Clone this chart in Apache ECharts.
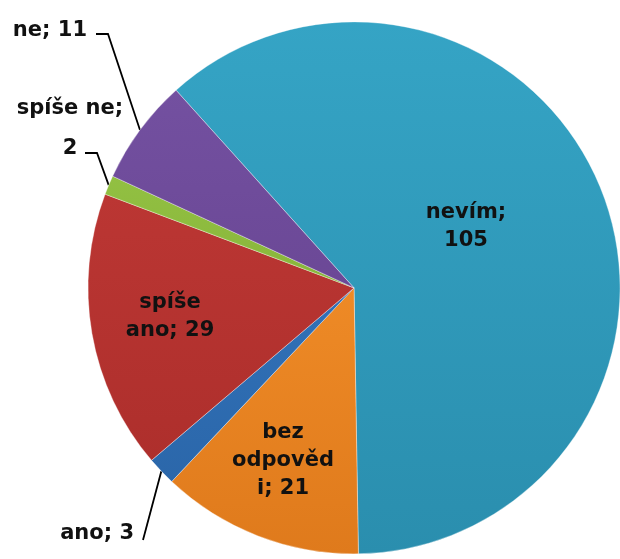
<!DOCTYPE html>
<html>
<head>
<meta charset="utf-8">
<script src="https://cdn.jsdelivr.net/npm/echarts@6/dist/echarts.min.js"></script>
<style>
  html, body { margin: 0; padding: 0; background: #fff; }
  #main { width: 620px; height: 559px; }
</style>
</head>
<body>
<div id="main"></div>
<script>
// data, in drawing order (clockwise, starting at the upper left edge of "nevím")
const categories = ['nevím', 'bez odpovědi', 'ano', 'spíše ano', 'spíše ne', 'ne'];
const values = [105, 21, 3, 29, 2, 11];
// label texts, wrapped the way the original shows them
const labelTexts = ['nevím;\n105', 'bez\nodpověd\ni; 21', 'ano; 3', 'spíše\nano; 29', 'spíše ne;\n2', 'ne; 11'];

// styling: [top colour, bottom colour] of each slice
const colors = [
  ['#35a4c5', '#2a8eae'],
  ['#ee8a26', '#df7a1c'],
  ['#3171b8', '#2b67aa'],
  ['#bb3633', '#ae2f2c'],
  ['#92c042', '#88b53b'],
  ['#7350a0', '#6b4896']
];
const outside = [false, false, true, false, true, true];
// where each label sits: [x, y, align]
const labelPos = [
  [466, 227, 'center'],
  [283, 461, 'center'],
  [134, 534, 'right'],
  [170, 317, 'center'],
  [70, 129, 'center'],
  [87, 31, 'right']
];
// leader line: elbow and end next to the label (the start stays on the slice edge)
const leaderEnds = [
  null,
  null,
  [[143, 540], [143, 540]],
  null,
  [[97, 153], [85, 153]],
  [[108, 34], [96, 34]]
];

const colorFunc = (c1, c2) => new echarts.graphic.LinearGradient(0, 0, 0, 1, [
  { offset: 0, color: c1 },
  { offset: 1, color: c2 }
]);

const chart = echarts.init(document.getElementById('main'));

const option = {
  animation: false,
  series: [
    {
      type: 'pie',
      center: ['57.1%', '51.5%'],
      radius: 266,
      startAngle: 132,
      clockwise: true,
      avoidLabelOverlap: false,
      itemStyle: {
        borderColor: 'rgba(255,255,255,0.35)',
        borderWidth: 1
      },
      label: {
        formatter: (p) => labelTexts[p.dataIndex],
        color: '#111',
        fontFamily: 'DejaVu Sans',
        fontWeight: 'bold',
        fontSize: 21,
        lineHeight: 28
      },
      labelLine: {
        length: 10,
        length2: 12,
        lineStyle: { color: '#000', width: 1.8 }
      },
      labelLayout: (params) => {
        const i = params.dataIndex;
        const p = labelPos[i];
        const res = { x: p[0], y: p[1], align: p[2], verticalAlign: 'middle' };
        if (leaderEnds[i] && params.labelLinePoints) {
          res.labelLinePoints = [params.labelLinePoints[0]].concat(leaderEnds[i]);
        }
        return res;
      },
      data: categories.map((name, i) => ({
        name: name,
        value: values[i],
        itemStyle: { color: colorFunc(colors[i][0], colors[i][1]) },
        label: {
          position: outside[i] ? 'outside' : 'inside',
          lineHeight: name === 'spíše ne' ? 40 : 28
        },
        labelLine: { show: outside[i] }
      }))
    }
  ]
};

chart.setOption(option);
window.addEventListener('resize', () => {
  chart.resize();
});
</script>
</body>
</html>
